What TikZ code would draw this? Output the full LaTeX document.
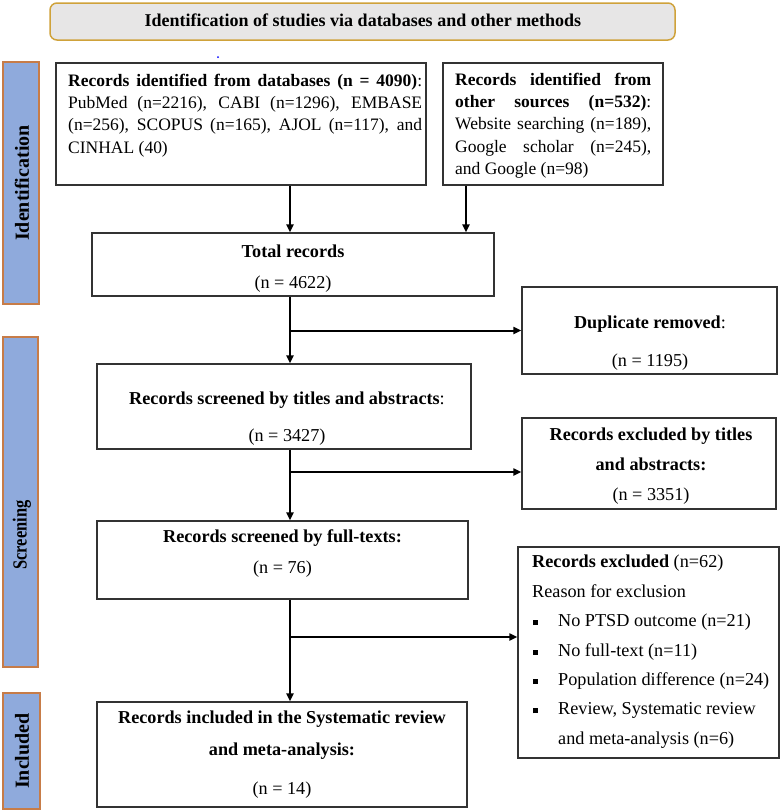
\documentclass[tikz,border=0pt]{standalone}
\usepackage{fontspec}
\setmainfont{Liberation Serif}
\usetikzlibrary{arrows.meta}
\definecolor{sideFill}{HTML}{8FAADC}
\definecolor{sideLine}{HTML}{C77C48}
\definecolor{banFill}{HTML}{E7E6E6}
\definecolor{banLine}{HTML}{CFA23A}
\definecolor{boxLine}{HTML}{333333}
\newcommand\jl[2]{\hbox to #1pt{#2}}
\newcommand\bul{\makebox[26pt][l]{\hspace{1pt}\rule[1.5pt]{5pt}{5pt}}}
\tikzset{
  frame/.style={draw=boxLine, line width=1.3pt, inner sep=0pt},
  side/.style={draw=sideLine, fill=sideFill, line width=1.4pt, inner sep=0pt},
  txt/.style={inner sep=0pt, font=\fontsize{17.5pt}{22.3pt}\selectfont},
  txtb/.style={inner sep=0pt, font=\fontsize{18.2pt}{22.3pt}\selectfont},
  sidelbl/.style={inner sep=0pt, rotate=90},
  arr/.style={-{Triangle[length=8pt,width=7pt]}, line width=2pt},
}
\begin{document}
\begin{tikzpicture}[x=1pt,y=-1pt]
\useasboundingbox (0,0) rectangle (782,812);
% banner
\node[draw=banLine, fill=banFill, line width=1.5pt, rounded corners=7pt, minimum width=625pt, minimum height=37pt] (ban) at (362.5,21.5) {};
\node[inner sep=0pt, anchor=base, font=\fontsize{18pt}{21pt}\selectfont\bfseries] (bant) at (363,26.7) {Identification of studies via databases and other methods};
\fill[blue] (218,57) circle (1pt);
% side bars
\node[side, minimum width=36pt, minimum height=242pt] (s1) at (21,183) {};
\node[side, minimum width=35pt, minimum height=330pt] (s2) at (20.5,502) {};
\node[side, minimum width=37pt, minimum height=116pt] (s3) at (21.5,751) {};
\node[sidelbl, font=\fontsize{20pt}{24pt}\selectfont\bfseries] (s1t) at (22,183) {Identification};
\node[sidelbl, font=\fontsize{20pt}{24pt}\selectfont\bfseries] (s2t) at (22,535) {\scalebox{0.82}[1]{Screening}};
\node[sidelbl, font=\fontsize{20pt}{24pt}\selectfont\bfseries] (s3t) at (22,751) {Included};
% boxes
\node[frame, minimum width=370pt, minimum height=122pt] (db) at (241,124) {};
\node[frame, minimum width=220pt, minimum height=122pt] (other) at (553,124) {};
\node[frame, minimum width=402pt, minimum height=63pt] (total) at (293,264.5) {};
\node[frame, minimum width=255pt, minimum height=87pt] (dup) at (649.5,330.5) {};
\node[frame, minimum width=374pt, minimum height=85pt] (scr1) at (284,406.5) {};
\node[frame, minimum width=254pt, minimum height=91pt] (exc1) at (649,463.5) {};
\node[frame, minimum width=371pt, minimum height=78pt] (scr2) at (282.5,560) {};
\node[frame, minimum width=261pt, minimum height=211pt] (exc2) at (648.5,652.5) {};
\node[frame, minimum width=370pt, minimum height=105pt] (inc) at (282,754.5) {};
% texts
\node[txt, anchor=north west, align=left] (dbt) at (68,70.4) {%
\strut\jl{354}{\textbf{Records identified from databases (n = 4090)}:}\\
\jl{354}{PubMed (n=2216), CABI (n=1296), EMBASE}\\
\jl{354}{(n=256), SCOPUS (n=165), AJOL (n=117), and}\\
CINHAL (40)};
\node[txt, anchor=north west, align=left] (othert) at (455,69.4) {%
\strut\jl{196}{\textbf{Records identified from}}\\
\jl{196}{\textbf{other sources (n=532)}:}\\
\jl{196}{Website searching (n=189),}\\
\jl{196}{Google scholar (n=245),}\\
and Google (n=98)};
\node[txtb, anchor=north, align=center] (totalt) at (293,241.4) {%
\strut\textbf{Total records}\\[8.7pt] (n = 4622)};
\node[txtb, anchor=north, align=center] (dupt) at (650,312.4) {%
\strut\textbf{Duplicate removed}:\\[15.7pt] (n = 1195)};
\node[txtb, anchor=north, align=center] (scr1t) at (287,388.4) {%
\strut\textbf{Records screened by titles and abstracts}:\\[14.7pt] (n = 3427)};
\node[txtb, anchor=north, align=center] (exc1t) at (651,424.4) {%
\strut\textbf{Records excluded by titles}\\[8pt]
\textbf{and abstracts:}\\[8pt] (n = 3351)};
\node[txtb, anchor=north, align=center] (scr2t) at (282.5,526.4) {%
\strut\textbf{Records screened by full-texts:}\\[8.7pt] (n = 76)};
\node[txtb, anchor=north west, align=left] (exc2t) at (532,552.1) {%
\strut\textbf{Records excluded} (n=62)\\[7.1pt]
Reason for exclusion\\[7.1pt]
\bul No PTSD outcome (n=21)\\[7.1pt]
\bul No full-text (n=11)\\[7.1pt]
\bul Population difference (n=24)\\[7.1pt]
\bul Review, Systematic review\\[7.1pt]
\hspace*{26pt}and meta-analysis (n=6)};
\node[txtb, anchor=north, align=center] (inct) at (282,707.4) {%
\strut\textbf{Records included in the Systematic review}\\[9.7pt]
\textbf{and meta-analysis:}\\[16.7pt] (n = 14)};
% connectors
\coordinate (e1) at ([yshift=-8.5pt]exc1.west);
\coordinate (e2) at ([yshift=15.5pt]exc2.west);
\draw[arr] ([xshift=49pt]db.south) -- ([xshift=49pt]db.south |- total.north);
\draw[arr] ([xshift=-87pt]other.south) -- ([xshift=-87pt]other.south |- total.north);
\draw[arr] ([xshift=-3pt]total.south) -- ([xshift=-3pt]total.south |- scr1.north);
\coordinate (j1) at ([xshift=-3pt]total.south |- dup.west);
\draw[arr] (j1) -- (dup.west);
\draw[arr] ([xshift=6pt]scr1.south) -- ([xshift=6pt]scr1.south |- scr2.north);
\coordinate (j2) at ([xshift=6pt]scr1.south |- e1);
\draw[arr] (j2) -- (e1);
\draw[arr] ([xshift=7.5pt]scr2.south) -- ([xshift=7.5pt]scr2.south |- inc.north);
\coordinate (j3) at ([xshift=7.5pt]scr2.south |- e2);
\draw[arr] (j3) -- (e2);
\end{tikzpicture}
\end{document}
